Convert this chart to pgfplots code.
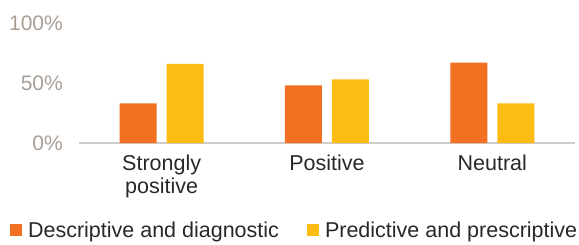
\documentclass[border=0pt]{standalone}
\usepackage{pgfplots}
\pgfplotsset{compat=1.18}
\usepackage{fontspec}
\setmainfont{Liberation Sans}
\definecolor{orng}{RGB}{242,112,34}
\definecolor{yell}{RGB}{253,188,19}
\definecolor{ticklab}{RGB}{168,158,150}
\definecolor{txt}{RGB}{40,40,40}
\definecolor{baseln}{RGB}{208,204,200}
\begin{document}
\begin{tikzpicture}
\path[use as bounding box] (-79pt,-101pt) rectangle (500pt,143pt);
\begin{axis}[
  at={(0,0)}, anchor=south west,
  scale only axis, width=496pt, height=120pt,
  xmin=-0.5, xmax=2.5, ymin=0, ymax=100,
  ybar=10pt, bar width=37pt,
  axis x line*=bottom, axis y line*=left,
  x axis line style={draw=baseln, line width=1.2pt},
  y axis line style={draw=none},
  major tick length=0pt,
  xtick={0,1,2},
  xticklabels={{Strongly\\positive},{Positive},{Neutral}},
  xticklabel style={align=center, font=\fontsize{21.5}{23}\selectfont, text=txt, inner sep=0pt, yshift=-12pt},
  ytick={0,50,100},
  yticklabels={0\%,50\%,100\%},
  yticklabel style={font=\fontsize{21}{23}\selectfont, text=ticklab, inner sep=0pt, xshift=-16pt},
  /pgf/number format/assume math mode=true,
  legend columns=2,
  legend style={at={(-0.139,-0.725)}, anchor=west, draw=none, fill=none, inner sep=0pt, outer sep=0pt,
    font=\fontsize{21.5}{23}\selectfont, text=txt,
    /tikz/every even column/.append style={column sep=26pt}},
  legend image code/.code={\fill[#1] (0pt,-6pt) rectangle (12pt,6pt);\path (0pt,0pt) -- (16pt,0pt);},
  clip=false,
]
\addplot[fill=orng, draw=none] coordinates {(0,33) (1,48) (2,67)};
\addplot[fill=yell, draw=none] coordinates {(0,66) (1,53) (2,33)};
\legend{Descriptive and diagnostic, Predictive and prescriptive}
\end{axis}
\end{tikzpicture}
\end{document}
